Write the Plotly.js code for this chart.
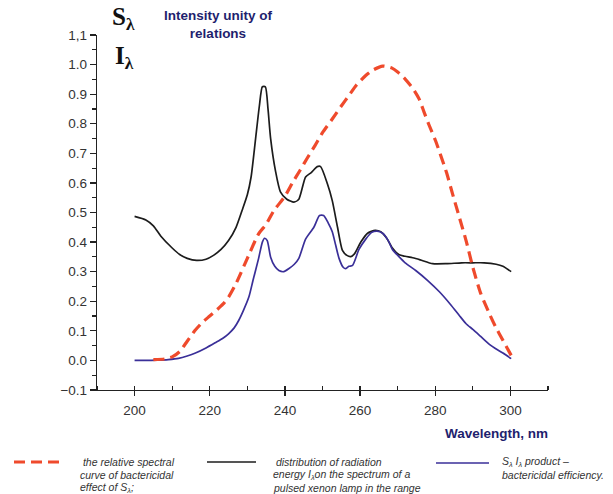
<!DOCTYPE html>
<html>
<head>
<meta charset="utf-8">
<script src="https://cdn.plot.ly/plotly-3.0.1.min.js"></script>
<style>html,body{margin:0;padding:0;background:#fff;}#chart{width:613px;height:494px;}</style>
</head>
<body>
<div id="chart"></div>
<script>
// Relative spectral curve of bactericidal effect S_lambda (red dashed)
const redWavelength = [205,208,210,212,214,216,218,220,222,223.5,225,227,230,233,235,237,240,242,244,246,248,250,252.6,255,257,259,261.5,263.5,266,268.5,270,272,274,275.7,277,278.4,280,281,283,284.6,286.5,288.2,290,292,294.4,296,298,300.2];
const redValue      = [0.003,0.005,0.012,0.03,0.065,0.1,0.128,0.15,0.172,0.19,0.214,0.26,0.345,0.428,0.46,0.505,0.555,0.6,0.642,0.685,0.726,0.77,0.816,0.86,0.895,0.93,0.963,0.982,0.995,0.988,0.975,0.951,0.92,0.884,0.84,0.794,0.745,0.71,0.635,0.563,0.48,0.405,0.315,0.23,0.158,0.115,0.068,0.017];

// Distribution of radiation energy I_lambda of pulsed xenon lamp (black)
const blackWavelength = [200,203,205,207,210,212,214,216.5,219,221,223,225,227,228.6,230,231,232.2,233.2,234,234.8,235.5,236.2,237.5,238.8,240.5,242.4,243.7,245.5,247,248.6,249.5,251.3,252.6,254,255.3,256.5,257.5,258.5,260.2,262,264,265.5,267,268.6,270.4,272,274,276,279.3,283,287,290,293,296.2,298,300.2];
const blackValue      = [0.487,0.475,0.455,0.42,0.38,0.358,0.345,0.338,0.342,0.355,0.375,0.405,0.45,0.507,0.56,0.62,0.75,0.86,0.925,0.925,0.85,0.75,0.64,0.57,0.545,0.535,0.545,0.62,0.635,0.655,0.655,0.597,0.54,0.45,0.372,0.355,0.351,0.36,0.4,0.43,0.44,0.435,0.415,0.38,0.357,0.352,0.347,0.34,0.327,0.327,0.33,0.33,0.33,0.325,0.318,0.3];

// Product S_lambda * I_lambda - bactericidal efficiency (blue)
const blueWavelength = [200,203,206,209,211.7,214,216.2,219,221.5,223.5,225,226.5,227.7,229,230.4,231.5,233,234,234.6,235.3,236.2,237.3,238.4,239.7,241,242.5,243.7,245.5,247.7,249.2,250.3,251.5,252.6,253.5,254.4,255.5,256.2,257,258,259.7,261.5,263,264.5,266,267.5,268.6,270.4,272,274.8,278,281.1,284,286.4,288.2,290,292,294.4,296,298,300.2];
const blueValue      = [0,0,0.001,0.003,0.007,0.015,0.025,0.042,0.06,0.075,0.09,0.11,0.135,0.17,0.214,0.27,0.345,0.4,0.413,0.405,0.349,0.318,0.304,0.3,0.31,0.325,0.345,0.41,0.45,0.49,0.49,0.465,0.435,0.39,0.345,0.315,0.31,0.318,0.321,0.375,0.41,0.432,0.437,0.43,0.405,0.375,0.35,0.33,0.304,0.27,0.232,0.19,0.152,0.124,0.105,0.082,0.054,0.04,0.025,0.006];

const xTickVals = [200,220,240,260,280,300];
const xTickText = ['200','220','240','260','280','300'];
const yTickVals = [-0.1,0,0.1,0.2,0.3,0.4,0.5,0.6,0.7,0.8,0.9,1.0,1.1];
const yTickText = ['\u22120.1','0.0','0.1','0.2','0.3','0.4','0.5','0.6','0.7','0.8','0.9','1.0','1,1'];

const legendRed   = [' the relative spectral','curve of bactericidal','effect of S<sub>\u03bb</sub>;'];
const legendBlack = [' distribution of radiation','energy I<sub>\u03bb</sub>on the spectrum of a','pulsed xenon lamp in the range'];
const legendBlue  = ['S<sub>\u03bb</sub> I<sub>\u03bb</sub> product \u2013','bactericidal efficiency.'];

const RED = '#ef4a2c', BLACK = '#1c1c1c', BLUE = '#3a2f98', NAVY = '#1f1f6e';

// plot area in pixels
const L = 97, T = 35, W = 451, H = 355;
const px = x => (x - L) / W;
const py = y => (T + H - y) / H;

const traces = [
  {x: blackWavelength, y: blackValue, mode: 'lines', line: {color: BLACK, width: 1.7, shape: 'spline', smoothing: 0.6}, hoverinfo: 'skip'},
  {x: blueWavelength, y: blueValue, mode: 'lines', line: {color: BLUE, width: 1.7, shape: 'spline', smoothing: 0.6}, hoverinfo: 'skip'},
  {x: redWavelength, y: redValue, mode: 'lines', line: {color: RED, width: 3.2, dash: '11px,6px', shape: 'spline', smoothing: 0.6}, hoverinfo: 'skip'}
];

const legFont = {family: 'Liberation Sans, Arial, sans-serif', size: 10.5, color: '#333'};
const annotations = [];
function txt(text, x, y, font, xanchor) {
  annotations.push({text: text, xref: 'paper', yref: 'paper', x: px(x), y: py(y), xanchor: xanchor || 'left', yanchor: 'middle', showarrow: false, font: font, align: 'left'});
}
legendRed.forEach((t, i) => txt('<i>' + t + '</i>', 78, 462 + i * 13, legFont));
legendBlack.forEach((t, i) => txt('<i>' + t + '</i>', 271, 462 + i * 13, legFont));
legendBlue.forEach((t, i) => txt('<i>' + t + '</i>', 500, 462 + i * 13, legFont));

const serif = {family: 'Liberation Serif, DejaVu Serif, serif', size: 25, color: '#111'};
txt('<b>S<sub>\u03bb</sub></b>', 110, 18, serif);
txt('<b>I<sub>\u03bb</sub></b>', 113, 57, serif);
annotations.push({text: '<b>Intensity unity of<br>relations</b>', xref: 'paper', yref: 'paper', x: px(218), y: py(24), xanchor: 'center', yanchor: 'middle', showarrow: false, font: {family: 'Liberation Sans, Arial, sans-serif', size: 13.5, color: NAVY}, align: 'center'});
txt('<b>Wavelength, nm</b>', 550, 433, {family: 'Liberation Sans, Arial, sans-serif', size: 13.5, color: NAVY}, 'right');

const shapes = [
  {type: 'line', xref: 'paper', yref: 'paper', x0: px(14), x1: px(63), y0: py(462), y1: py(462), line: {color: RED, width: 3.2, dash: '11px,6px'}},
  {type: 'line', xref: 'paper', yref: 'paper', x0: px(207), x1: px(256), y0: py(462), y1: py(462), line: {color: BLACK, width: 1.7}},
  {type: 'line', xref: 'paper', yref: 'paper', x0: px(436), x1: px(489), y0: py(463), y1: py(463), line: {color: BLUE, width: 1.7}}
];

const layout = {
  width: 613, height: 494,
  margin: {l: L, r: 613 - L - W, t: T, b: 494 - T - H, pad: 0},
  paper_bgcolor: '#fff', plot_bgcolor: '#fff',
  showlegend: false,
  font: {family: 'Liberation Sans, Arial, sans-serif', size: 12, color: '#333'},
  xaxis: {
    range: [190, 310], showgrid: false, zeroline: false,
    showline: true, linecolor: '#222', linewidth: 1.2,
    tickmode: 'array', tickvals: xTickVals, ticktext: xTickText,
    ticks: 'outside', ticklen: 5, tickcolor: '#222', tickwidth: 1.2,
    ticklabelstandoff: 3,
    minor: {dtick: 10, tick0: 190, ticks: 'inside', ticklen: 4, tickcolor: '#222', tickwidth: 1.2},
    tickfont: {size: 13.5, color: '#333'}
  },
  yaxis: {
    range: [-0.1, 1.1], showgrid: false, zeroline: false,
    showline: true, linecolor: '#222', linewidth: 1.2,
    tickmode: 'array', tickvals: yTickVals, ticktext: yTickText,
    ticks: 'outside', ticklen: 6, tickcolor: '#222', tickwidth: 1.2,
    minor: {dtick: 0.05, tick0: 0, ticks: 'outside', ticklen: 3.5, tickcolor: '#222', tickwidth: 1.2},
    tickfont: {size: 13.5, color: '#333'}
  },
  annotations: annotations,
  shapes: shapes
};

Plotly.newPlot('chart', traces, layout, {displayModeBar: false, staticPlot: true});
</script>
</body>
</html>
